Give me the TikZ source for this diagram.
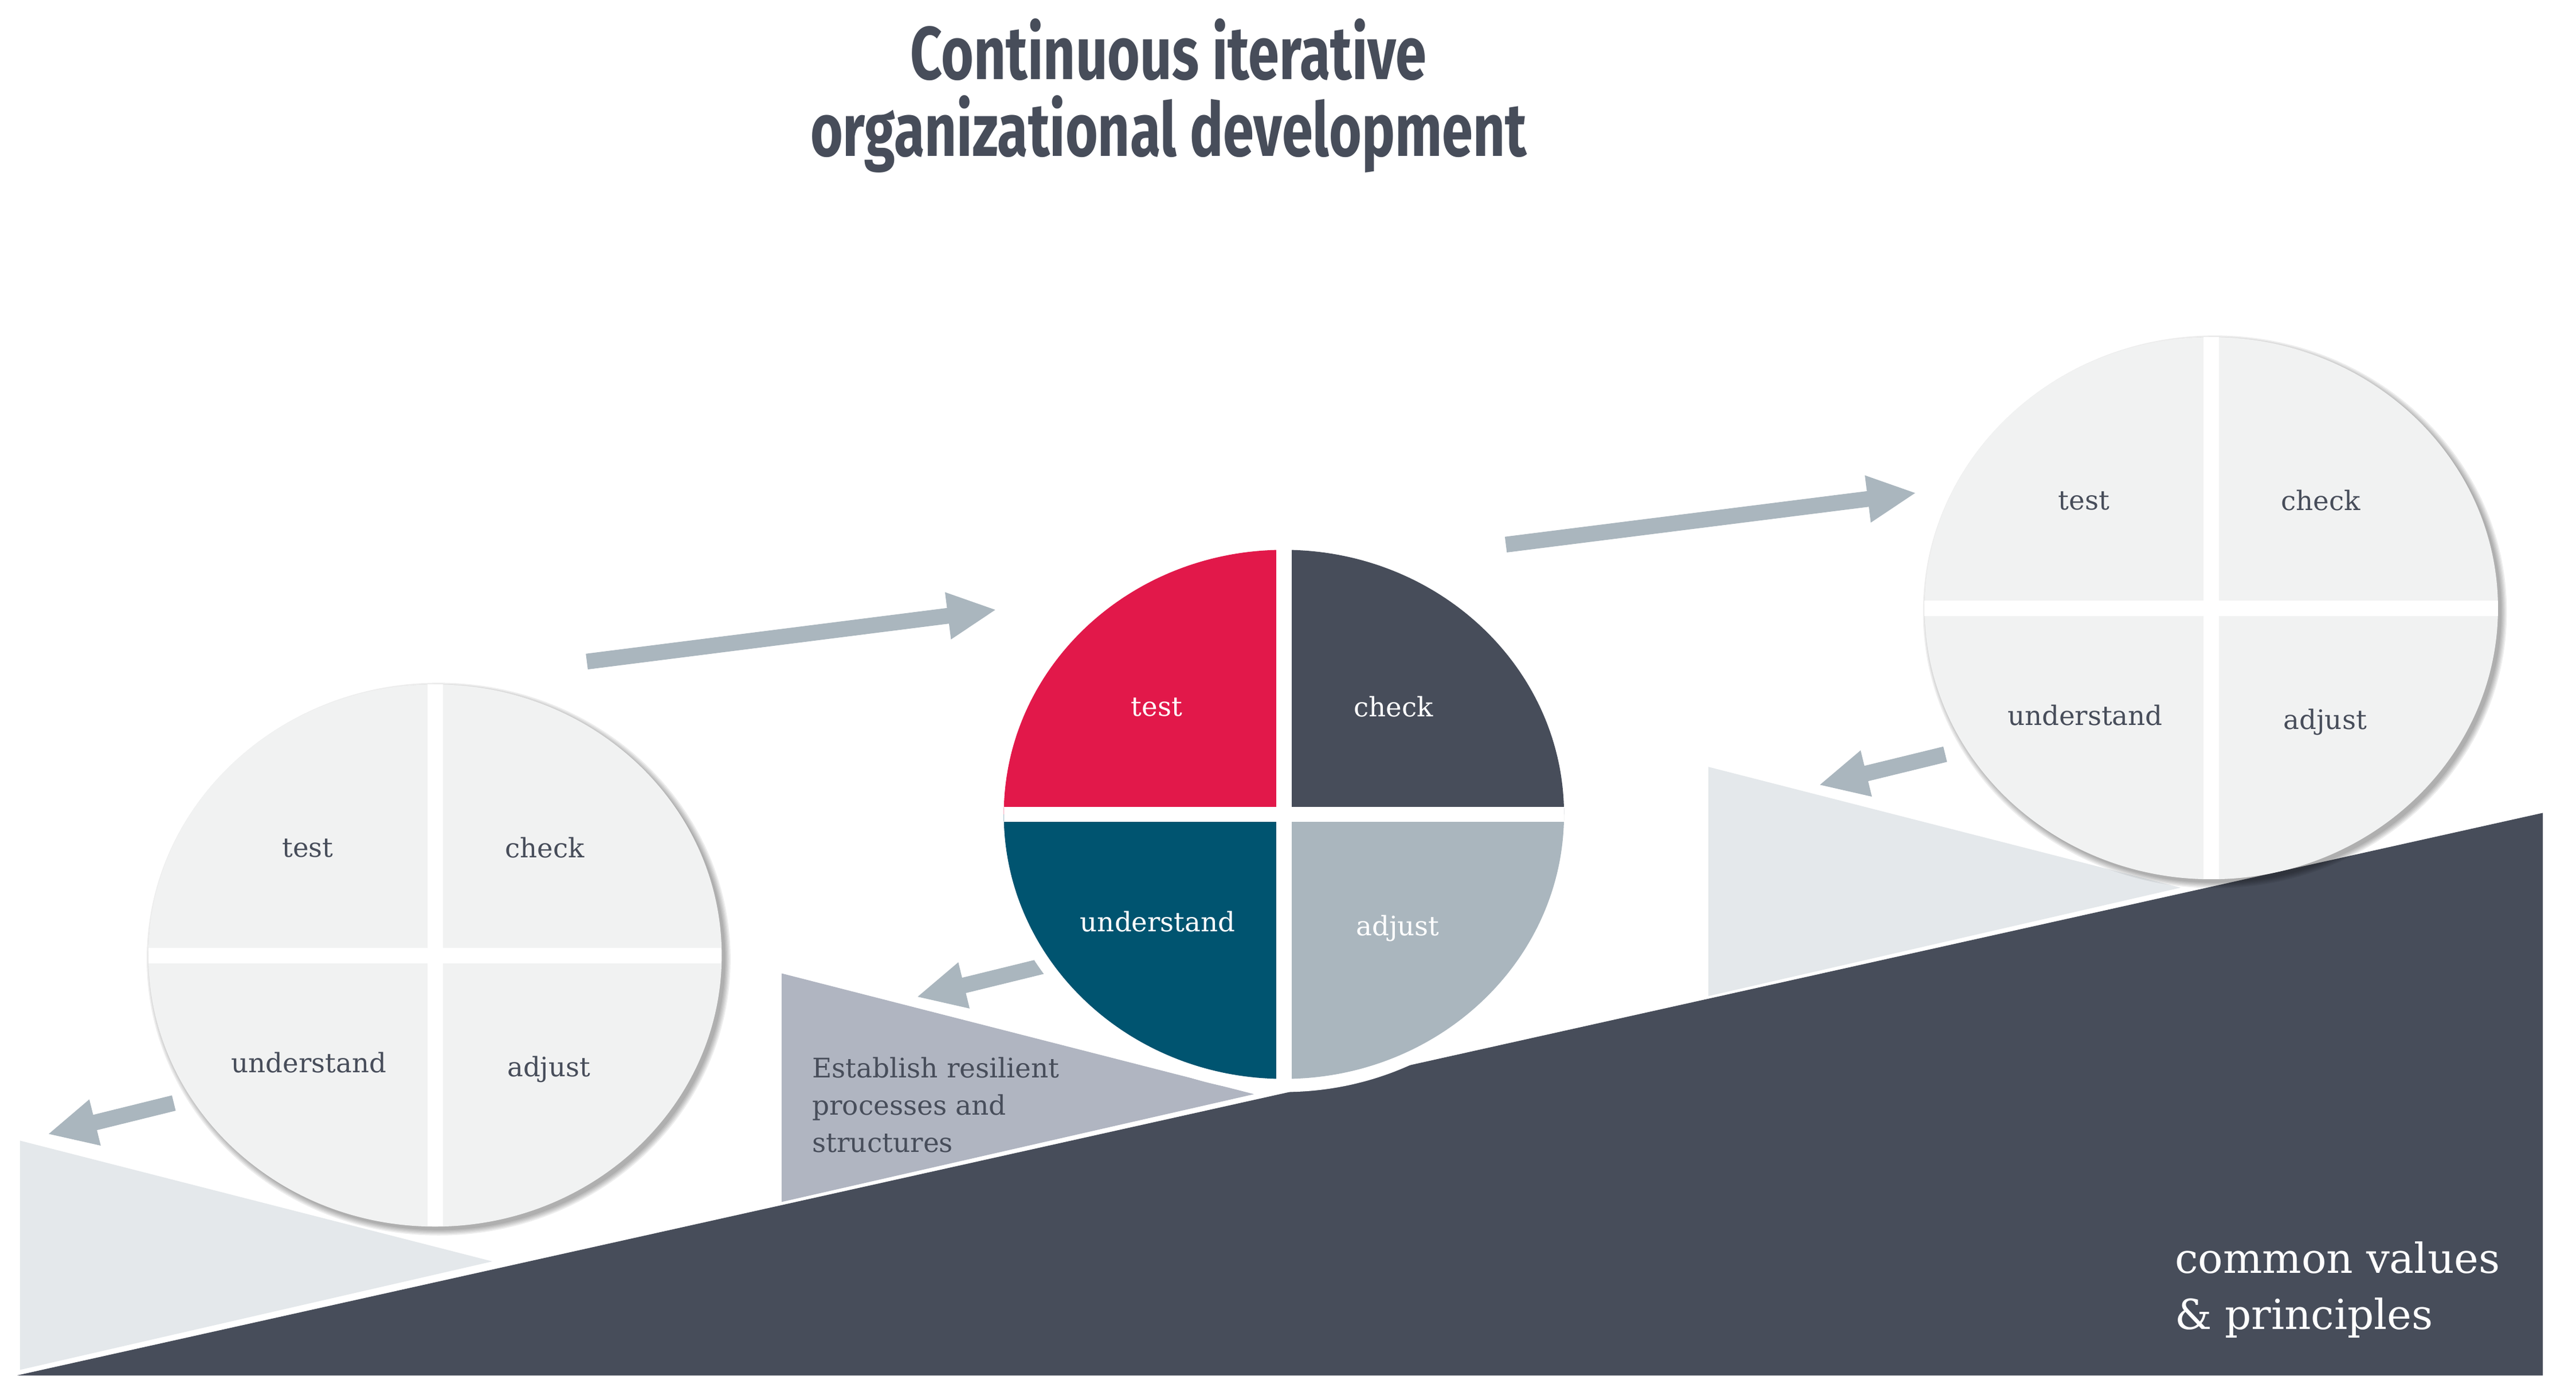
\documentclass[tikz,border=0pt]{standalone}
\usepackage{fontspec}
\setmainfont{DejaVu Serif}
\newfontfamily\headfont[FakeStretch=0.745]{Fira Sans}
\usepackage{tikz}
\usetikzlibrary{calc}
\definecolor{slate}{HTML}{474D5A}
\definecolor{signal}{HTML}{E2184A}
\definecolor{petrol}{HTML}{005470}
\definecolor{mist}{HTML}{AAB6BE}
\definecolor{pale}{HTML}{E4E8EB}
\definecolor{steel}{HTML}{B0B5C1}
\definecolor{paper}{HTML}{F1F2F2}
\tikzstyle{wheeltext}=[inner sep=0pt, anchor=base, font=\fontsize{16.3}{19}\selectfont]
\tikzstyle{blocktext}=[inner sep=0pt, align=left, anchor=north west]
\newcommand{\blockarrow}[2]{
 \coordinate (hb) at ($#2!29pt!#1$);
 \fill[mist] ($#1!4.8pt!90:#2$) -- ($(hb)!4.8pt!90:#2$) -- ($(hb)!14.5pt!90:#2$) -- #2
 -- ($(hb)!14.5pt!-90:#2$) -- ($(hb)!4.8pt!-90:#2$) -- ($#1!4.8pt!-90:#2$) -- cycle;
}
\newcommand{\wheelshadow}[3]{
 \foreach \s in {0,0.8,...,4}
 \fill[black, opacity=0.07] ($#1+(2.2,-2.2)$) ellipse ({#2+\s} and {#3+\s});
}
\newcommand{\quarters}[9]{
 \fill[#4] #1 -- ++(0,#3) arc (90:180:#2 and #3) -- cycle;
 \fill[#5] #1 -- ++(#2,0) arc (0:90:#2 and #3) -- cycle;
 \fill[#6] #1 -- ++(-#2,0) arc (180:270:#2 and #3) -- cycle;
 \fill[#7] #1 -- ++(0,-#3) arc (270:360:#2 and #3) -- cycle;
 \draw[white, line width=9.4pt] ($#1+(-#2,0)$) -- ($#1+(#2,0)$);
 \draw[white, line width=9.4pt] ($#1+(0,-#3)$) -- ($#1+(0,#3)$);
 \node[wheeltext, text=#8] (#9test) at ($#1+(-77.5,60)$) {test};
 \node[wheeltext, text=#8] (#9check) at ($#1+(66.7,59.4)$) {check};
 \node[wheeltext, text=#8] (#9understand) at ($#1+(-76.8,-71.4)$) {understand};
 \node[wheeltext, text=#8] (#9adjust) at ($#1+(69.3,-73.7)$) {adjust};
}

\begin{document}
\begin{tikzpicture}[x=1pt, y=1pt]
 \useasboundingbox (0,0) rectangle (1568,837.2);
 \fill[white] (0,0) rectangle (1568,837.2);
%
 \fill[pale] (12.2,142.9) -- (299.7,69.4) -- (12.2,3.4) -- cycle;
 \fill[steel] (475.8,244.7) -- (763.3,171.2) -- (475.8,105.6) -- cycle;
 \fill[pale] (1039.9,370.4) -- (1327.4,296.9) -- (1039.9,230.9) -- cycle;
 \fill[slate] (10.4,0) -- (1547.8,342.4) -- (1547.8,0) -- cycle;
%
 \coordinate (riseAtail) at (357.2,434.5);
 \coordinate (riseAtip) at (605.8,466);
 \coordinate (riseBtail) at (916.6,505.7);
 \coordinate (riseBtip) at (1165.7,537.1);
 \coordinate (slipAtail) at (105.8,165.8);
 \coordinate (slipAtip) at (29.7,147);
 \coordinate (slipBtail) at (634.9,249.2);
 \coordinate (slipBtip) at (558.6,230.5);
 \coordinate (slipCtail) at (1184,378.1);
 \coordinate (slipCtip) at (1107.8,359.5);
 \blockarrow{(riseAtail)}{(riseAtip)}
 \blockarrow{(riseBtail)}{(riseBtip)}
 \blockarrow{(slipAtail)}{(slipAtip)}
 \blockarrow{(slipBtail)}{(slipBtip)}
 \blockarrow{(slipCtail)}{(slipCtip)}
%
 \coordinate (hubA) at (264.8,255.6);
 \coordinate (hubB) at (781.5,341.5);
 \coordinate (hubC) at (1346,467);
 \wheelshadow{(hubA)}{174.5}{165}
 \quarters{(hubA)}{174.5}{165}{paper}{paper}{paper}{paper}{slate}{left}
 \fill[white] (hubB) ellipse (178.5 and 169);
 \quarters{(hubB)}{170.5}{161}{signal}{slate}{petrol}{mist}{white}{mid}
 \wheelshadow{(hubC)}{174.5}{165}
 \quarters{(hubC)}{174.5}{165}{paper}{paper}{paper}{paper}{slate}{right}
%
 \node[blocktext, text=slate, font=\fontsize{16.4}{22.8}\selectfont] (establish) at (494.2,194) {Establish resilient\\processes and\\structures};
 \node[blocktext, text=white, font=\fontsize{25.2}{34.1}\selectfont] (values) at (1323.7,81.6) {common values\\\& principles};
 \node[inner sep=0pt, align=center, anchor=north, text=slate, font=\headfont\bfseries\fontsize{45.6}{46.8}\selectfont] (title) at (711.3,826) {Continuous iterative\\organizational development};
\end{tikzpicture}
\end{document}
